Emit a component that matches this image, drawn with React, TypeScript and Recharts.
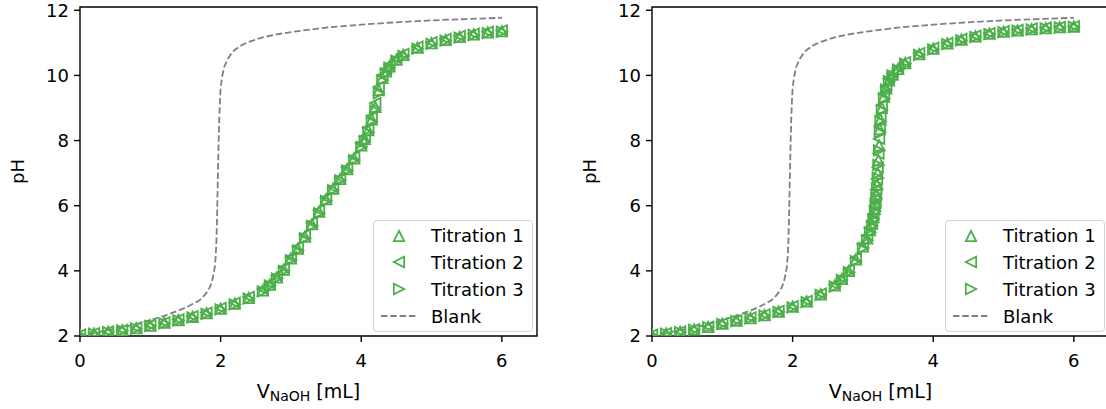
import React from 'react';
import { ScatterChart, Scatter, XAxis, YAxis, ReferenceArea, Label } from 'recharts';

const GREEN = '#4daf4a';
const GRAY = '#808080';
const FONT = '"DejaVu Sans", sans-serif';

// left panel: titrant volumes and measured pH
const leftVolume = [0, 0.2, 0.4, 0.6, 0.8, 1.0, 1.2, 1.4, 1.6, 1.8, 2.0, 2.2, 2.4, 2.6, 2.7, 2.8, 2.9, 3.0, 3.1, 3.2, 3.3, 3.4, 3.5, 3.6, 3.7, 3.8, 3.9, 4.0, 4.05, 4.1, 4.15, 4.2, 4.25, 4.3, 4.35, 4.4, 4.5, 4.6, 4.8, 5.0, 5.2, 5.4, 5.6, 5.8, 6.0];
const leftPh1 = [2.03, 2.08, 2.13, 2.18, 2.24, 2.32, 2.41, 2.49, 2.59, 2.70, 2.84, 2.99, 3.17, 3.40, 3.58, 3.80, 4.04, 4.38, 4.68, 5.05, 5.43, 5.82, 6.20, 6.52, 6.82, 7.12, 7.45, 7.85, 8.05, 8.32, 8.65, 9.03, 9.55, 9.92, 10.12, 10.28, 10.48, 10.63, 10.85, 10.99, 11.09, 11.18, 11.26, 11.32, 11.36];
const leftPh2 = [2.04, 2.09, 2.14, 2.19, 2.26, 2.34, 2.42, 2.51, 2.61, 2.72, 2.86, 3.02, 3.20, 3.44, 3.62, 3.85, 4.10, 4.42, 4.74, 5.10, 5.48, 5.86, 6.24, 6.56, 6.86, 7.17, 7.50, 7.92, 8.12, 8.40, 8.76, 9.15, 9.65, 10.00, 10.18, 10.32, 10.52, 10.66, 10.88, 11.02, 11.12, 11.21, 11.28, 11.34, 11.38];
const leftPh3 = [2.02, 2.07, 2.12, 2.17, 2.23, 2.31, 2.39, 2.48, 2.57, 2.68, 2.82, 2.97, 3.15, 3.37, 3.55, 3.76, 4.00, 4.33, 4.63, 5.00, 5.38, 5.77, 6.15, 6.48, 6.78, 7.08, 7.40, 7.80, 7.98, 8.25, 8.56, 8.92, 9.45, 9.85, 10.07, 10.24, 10.45, 10.60, 10.82, 10.97, 11.07, 11.16, 11.24, 11.30, 11.34];

// right panel
const rightVolume = [0, 0.2, 0.4, 0.6, 0.8, 1.0, 1.2, 1.4, 1.6, 1.8, 2.0, 2.2, 2.4, 2.6, 2.7, 2.8, 2.9, 3.0, 3.06, 3.1, 3.13, 3.15, 3.17, 3.18, 3.19, 3.2, 3.21, 3.22, 3.23, 3.24, 3.25, 3.27, 3.3, 3.33, 3.37, 3.42, 3.5, 3.6, 3.8, 4.0, 4.2, 4.4, 4.6, 4.8, 5.0, 5.2, 5.4, 5.6, 5.8, 6.0];
const rightPh1 = [2.03, 2.08, 2.13, 2.20, 2.28, 2.38, 2.47, 2.55, 2.64, 2.75, 2.90, 3.06, 3.28, 3.55, 3.75, 4.00, 4.35, 4.75, 5.00, 5.25, 5.45, 5.65, 5.90, 6.10, 6.35, 6.65, 7.00, 7.40, 7.85, 8.35, 8.65, 9.00, 9.35, 9.60, 9.85, 10.02, 10.20, 10.38, 10.65, 10.82, 10.98, 11.10, 11.20, 11.28, 11.34, 11.38, 11.42, 11.45, 11.48, 11.50];
const rightPh2 = [2.04, 2.09, 2.14, 2.21, 2.29, 2.39, 2.48, 2.57, 2.66, 2.77, 2.92, 3.08, 3.30, 3.58, 3.79, 4.05, 4.40, 4.82, 5.08, 5.32, 5.52, 5.74, 6.00, 6.22, 6.50, 6.82, 7.18, 7.60, 8.05, 8.45, 8.75, 9.08, 9.42, 9.65, 9.90, 10.06, 10.24, 10.41, 10.68, 10.85, 11.00, 11.12, 11.22, 11.30, 11.36, 11.40, 11.44, 11.47, 11.49, 11.51];
const rightPh3 = [2.02, 2.07, 2.12, 2.19, 2.27, 2.37, 2.46, 2.54, 2.63, 2.74, 2.88, 3.04, 3.26, 3.52, 3.72, 3.96, 4.30, 4.70, 4.94, 5.18, 5.38, 5.58, 5.82, 6.00, 6.24, 6.52, 6.86, 7.25, 7.70, 8.25, 8.58, 8.94, 9.30, 9.56, 9.82, 10.00, 10.18, 10.36, 10.63, 10.80, 10.96, 11.08, 11.18, 11.27, 11.33, 11.37, 11.41, 11.44, 11.47, 11.49];

// blank titration (same in both panels)
const blankVolume = [0, 0.2, 0.4, 0.6, 0.8, 1.0, 1.2, 1.4, 1.5, 1.6, 1.7, 1.75, 1.8, 1.85, 1.88, 1.9, 1.92, 1.93, 1.94, 1.95, 1.96, 1.97, 1.98, 1.99, 2.0, 2.02, 2.05, 2.1, 2.15, 2.2, 2.3, 2.4, 2.6, 2.8, 3.0, 3.5, 4.0, 4.5, 5.0, 5.5, 6.0];
const blankPh = [2.0, 2.09, 2.18, 2.27, 2.36, 2.49, 2.62, 2.78, 2.87, 2.98, 3.1, 3.2, 3.33, 3.51, 3.7, 3.9, 4.15, 4.45, 4.9, 5.7, 6.8, 7.8, 8.6, 9.2, 9.6, 9.95, 10.25, 10.5, 10.66, 10.78, 10.93, 11.03, 11.17, 11.26, 11.33, 11.47, 11.56, 11.63, 11.69, 11.73, 11.77];

const xTicks = [0, 2, 4, 6];
const yTicks = [2, 4, 6, 8, 10, 12];
const seriesNames = ['Titration 1', 'Titration 2', 'Titration 3'];
const markerDirs = ['up', 'left', 'right'];

const zip = (xs: number[], ys: number[]) => xs.map((v, i) => ({ v, ph: ys[i] }));
const blankData = zip(blankVolume, blankPh);

const triPoints = (cx: number, cy: number, dir: string, r: number) => {
  if (dir === 'up') return `${cx},${cy - r} ${cx - r},${cy + r} ${cx + r},${cy + r}`;
  if (dir === 'left') return `${cx - r},${cy} ${cx + r},${cy - r} ${cx + r},${cy + r}`;
  return `${cx + r},${cy} ${cx - r},${cy - r} ${cx - r},${cy + r}`;
};

const makeShape = (dir: string) => (props: any) => {
  const { cx, cy } = props;
  if (cx == null || cy == null) return <g />;
  return (
    <polygon
      points={triPoints(cx, cy, dir, 5.2)}
      fill="none"
      stroke={GREEN}
      strokeWidth={1.8}
      strokeLinejoin="miter"
    />
  );
};

const noDot = () => <g />;

function Legend({ left }: { left: number }) {
  return (
    <div
      style={{
        position: 'absolute',
        left,
        top: 220,
        width: 160,
        height: 112,
        border: '1.4px solid #d5d5d5',
        borderRadius: 4,
        background: 'rgba(255,255,255,0.8)',
        boxSizing: 'border-box',
        fontFamily: FONT,
        fontSize: 18,
        color: '#000',
      }}
    >
      {seriesNames.map((name, i) => (
        <div key={name} style={{ position: 'absolute', left: 0, top: 1.5 + i * 26.9, height: 26, display: 'flex', alignItems: 'center' }}>
          <svg width={56} height={26} style={{ display: 'block' }}>
            <polygon points={triPoints(25, 13, markerDirs[i], 5.2)} fill="none" stroke={GREEN} strokeWidth={1.8} />
          </svg>
          <span style={{ marginLeft: 1, whiteSpace: 'nowrap' }}>{name}</span>
        </div>
      ))}
      <div style={{ position: 'absolute', left: 0, top: 1.5 + 3 * 26.9, height: 26, display: 'flex', alignItems: 'center' }}>
        <svg width={56} height={26} style={{ display: 'block' }}>
          <line x1={7} y1={13} x2={43} y2={13} stroke={GRAY} strokeWidth={1.8} strokeDasharray="6.5 2.8" />
        </svg>
        <span style={{ marginLeft: 1 }}>Blank</span>
      </div>
    </div>
  );
}

function Panel({ volume, ph, left }: { volume: number[]; ph: number[][]; left: number }) {
  const tickStyle = { fontFamily: FONT, fontSize: 18, fill: '#000' };
  return (
    <div style={{ position: 'absolute', left, top: 0 }}>
      <ScatterChart width={560} height={409} margin={{ top: 7, right: 23, bottom: 0, left: 0 }}>
        <XAxis
          type="number"
          dataKey="v"
          domain={[0, 6.5]}
          ticks={xTicks}
          allowDataOverflow
          height={73}
          tickSize={6}
          tickMargin={12}
          tick={tickStyle}
          axisLine={false}
          tickLine={{ stroke: '#000', strokeWidth: 1.4 }}
        >
          <Label
            content={(p: any) => {
              const vb = p.viewBox;
              return (
                <text x={vb.x + vb.width / 2} y={vb.y + 62} textAnchor="middle" fontFamily={FONT} fontSize={19} fill="#000">
                  V<tspan fontSize={14} dy={3}>NaOH</tspan>
                  <tspan dy={-3}> [mL]</tspan>
                </text>
              );
            }}
          />
        </XAxis>
        <YAxis
          type="number"
          dataKey="ph"
          domain={[2, 12.1]}
          ticks={yTicks}
          allowDataOverflow
          width={80}
          tickSize={6}
          tickMargin={5}
          tick={tickStyle}
          axisLine={false}
          tickLine={{ stroke: '#000', strokeWidth: 1.4 }}
        >
          <Label
            content={() => (
              <text x={0} y={0} transform="translate(24,171.5) rotate(-90)" textAnchor="middle" fontFamily={FONT} fontSize={18} fill="#000">
                pH
              </text>
            )}
          />
        </YAxis>
        <Scatter
          data={blankData}
          line={{ stroke: GRAY, strokeWidth: 1.8, strokeDasharray: '6.5 2.8' }}
          shape={noDot}
          isAnimationActive={false}
        />
        {ph.map((ys, i) => (
          <Scatter
            key={seriesNames[i]}
            name={seriesNames[i]}
            data={zip(volume, ys)}
            shape={makeShape(markerDirs[i])}
            isAnimationActive={false}
          />
        ))}
        <ReferenceArea x1={0} x2={6.5} y1={2} y2={12.1} fill="none" fillOpacity={0} stroke="#000" strokeWidth={1.4} ifOverflow="visible" />
      </ScatterChart>
      <Legend left={373} />
    </div>
  );
}

export default function App() {
  return (
    <div style={{ position: 'absolute', left: 0, top: 0, width: 1106, height: 409, overflow: 'hidden', background: '#fff' }}>
      <Panel volume={leftVolume} ph={[leftPh1, leftPh2, leftPh3]} left={0} />
      <Panel volume={rightVolume} ph={[rightPh1, rightPh2, rightPh3]} left={572} />
    </div>
  );
}
